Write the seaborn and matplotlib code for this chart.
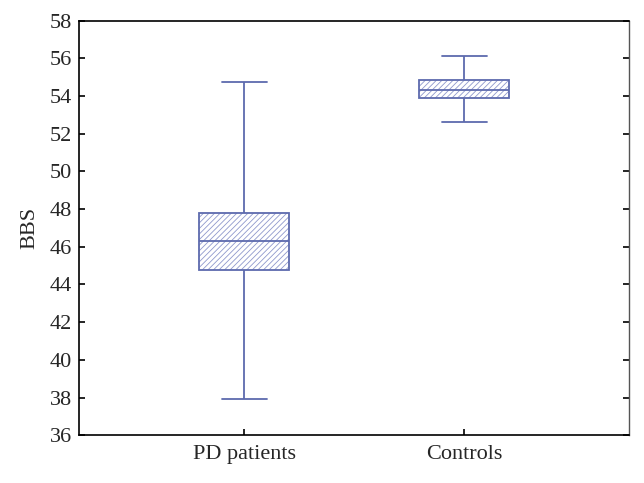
import pandas as pd
import matplotlib.pyplot as plt
import seaborn as sns
import numpy as np

# Box summaries: min, Q1, median, Q3, max
groups = ['PD patients', 'Controls']
pd_patients = [37.9, 44.75, 46.3, 47.8, 54.75]
controls = [52.65, 53.9, 54.35, 54.85, 56.15]

y_ticks = list(range(36, 59, 2))

sns.set_style('white')
plt.rcParams['font.family'] = ['Liberation Serif', 'DejaVu Serif']
plt.rcParams['hatch.linewidth'] = 0.6

df = pd.DataFrame({
    'group': [groups[0]] * len(pd_patients) + [groups[1]] * len(controls),
    'BBS': pd_patients + controls,
})

box_color = '#5d6aae'
hatch_color = '#8e98cc'

fig, ax = plt.subplots(figsize=(6.44, 4.83), dpi=100)
sns.boxplot(data=df, x='group', y='BBS', order=groups, whis=np.inf,
            width=0.41, color='white', linecolor=box_color, linewidth=1.3,
            showfliers=False, ax=ax)

for patch in ax.patches:
    patch.set_hatch('//////')
    patch.set_edgecolor(box_color)
    patch.set_facecolor('white')
    if hasattr(patch, 'set_hatchcolor'):
        patch.set_hatchcolor(hatch_color)
    else:
        patch._hatch_color = plt.matplotlib.colors.to_rgba(hatch_color)

ax.set_xlim(-0.75, 1.75)
ax.set_ylim(36, 58)
ax.set_yticks(y_ticks)
ax.set_xlabel('')
ax.set_ylabel('BBS', fontsize=16, labelpad=8)
ax.tick_params(axis='both', labelsize=16, direction='in', length=4, width=1.2,
               color='black', pad=5)
ax.tick_params(axis='y', right=True, left=True)
ax.tick_params(axis='x', bottom=True, top=False, pad=7)

for side in ['left', 'bottom', 'top']:
    ax.spines[side].set_color('black')
    ax.spines[side].set_linewidth(1.2)
ax.spines['right'].set_color('#555555')
ax.spines['right'].set_linewidth(1.0)

plt.subplots_adjust(left=0.123, right=0.977, top=0.957, bottom=0.099)
plt.savefig('out.png', dpi=100)
plt.close()
